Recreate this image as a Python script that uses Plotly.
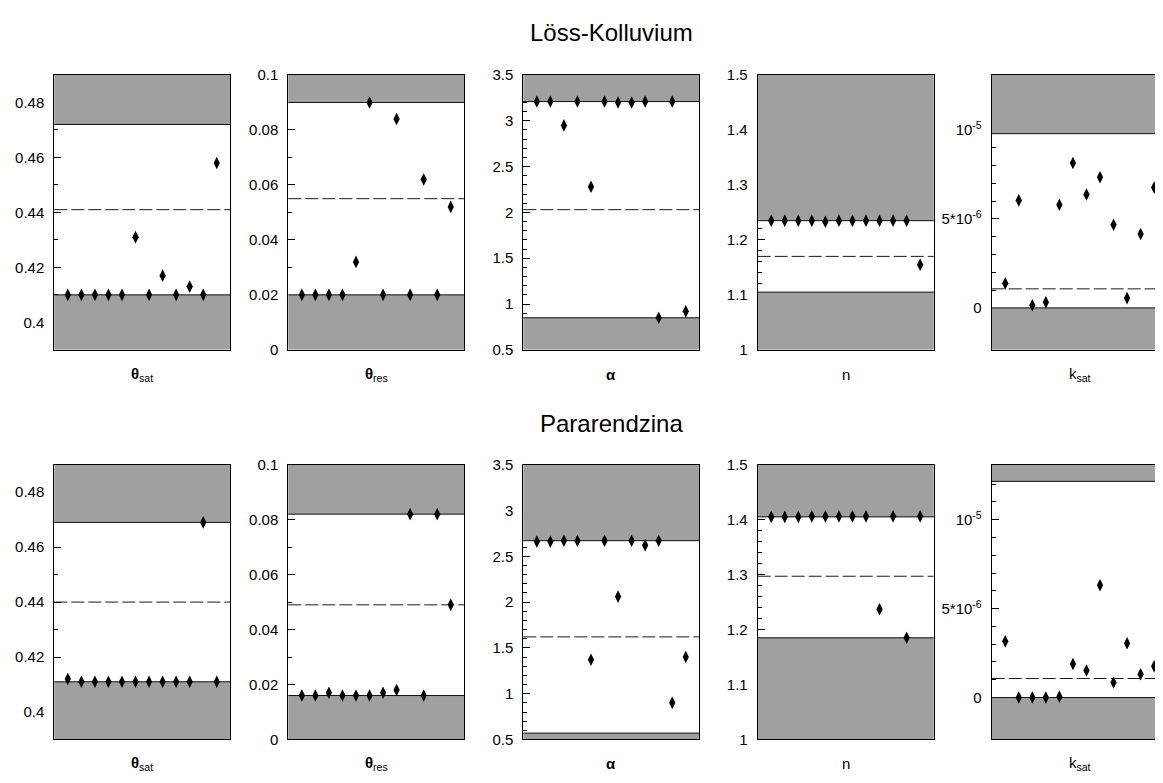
import numpy as np
import plotly.graph_objects as go

# ---------------- data ----------------
soil_names = ["Löss-Kolluvium", "Pararendzina"]
param_labels = ["<b>θ</b><sub>sat</sub>", "<b>θ</b><sub>res</sub>", "<b>α</b>", "n", "k<sub>sat</sub>"]
sample_pos = [1, 2, 3, 4, 5, 6, 7, 8, 9, 10, 11, 12]

# Löss-Kolluvium
lk_theta_sat = [0.41, 0.41, 0.41, 0.41, 0.41, 0.431, 0.41, 0.417, 0.41, 0.413, 0.41, 0.458]
lk_theta_res = [0.02, 0.02, 0.02, 0.02, 0.032, 0.09, 0.02, 0.084, 0.02, 0.062, 0.02, 0.052]
lk_alpha = [3.21, 3.21, 2.95, 3.21, 2.28, 3.21, 3.20, 3.20, 3.21, 0.85, 3.21, 0.92]
lk_n = [1.235, 1.235, 1.235, 1.235, 1.233, 1.235, 1.235, 1.235, 1.235, 1.235, 1.235, 1.155]
lk_ksat = [1.38e-6, 6.05e-6, 0.15e-6, 0.32e-6, 5.8e-6, 8.15e-6, 6.38e-6, 7.35e-6, 4.68e-6, 0.55e-6, 4.16e-6, 6.77e-6]
lk_lower = [0.41, 0.02, 0.85, 1.105, 0.0]
lk_upper = [0.472, 0.09, 3.21, 1.235, 9.8e-6]
lk_mean = [0.441, 0.055, 2.03, 1.17, 1.07e-6]

# Pararendzina
pr_theta_sat = [0.412, 0.411, 0.411, 0.411, 0.411, 0.411, 0.411, 0.411, 0.411, 0.411, 0.469, 0.411]
pr_theta_res = [0.016, 0.016, 0.017, 0.016, 0.016, 0.016, 0.017, 0.018, 0.082, 0.016, 0.082, 0.049]
pr_alpha = [2.66, 2.66, 2.67, 2.67, 1.37, 2.67, 2.06, 2.67, 2.62, 2.67, 0.90, 1.40]
pr_n = [1.405, 1.405, 1.405, 1.406, 1.406, 1.406, 1.406, 1.406, 1.237, 1.406, 1.185, 1.406]
pr_ksat = [3.16e-6, 0.0, 0.0, 0.0, 0.05e-6, 1.89e-6, 1.52e-6, 6.32e-6, 0.85e-6, 3.05e-6, 1.31e-6, 1.76e-6]
pr_lower = [0.411, 0.016, 0.57, 1.185, 0.0]
pr_upper = [0.469, 0.082, 2.67, 1.405, 1.216e-5]
pr_mean = [0.440, 0.049, 1.62, 1.297, 1.07e-6]

y_ranges = [[0.39, 0.49], [0.0, 0.1], [0.5, 3.5], [1.0, 1.5], [-2.36e-6, 1.31e-5]]
major_ticks = [
    [0.40, 0.42, 0.44, 0.46, 0.48],
    [0.0, 0.02, 0.04, 0.06, 0.08, 0.1],
    [0.5, 1.0, 1.5, 2.0, 2.5, 3.0, 3.5],
    [1.0, 1.1, 1.2, 1.3, 1.4, 1.5],
    [0.0, 5e-6, 1e-5],
]
major_text = [
    ["0.4", "0.42", "0.44", "0.46", "0.48"],
    ["0", "0.02", "0.04", "0.06", "0.08", "0.1"],
    ["0.5", "1", "1.5", "2", "2.5", "3", "3.5"],
    ["1", "1.1", "1.2", "1.3", "1.4", "1.5"],
    ["0", "5*10<sup>-6</sup>", "10<sup>-5</sup>"],
]
minor_step = [0.01, 0.01, 0.1, 0.02, 1e-6]

rows = [
    dict(values=[lk_theta_sat, lk_theta_res, lk_alpha, lk_n, lk_ksat], lower=lk_lower, upper=lk_upper, mean=lk_mean),
    dict(values=[pr_theta_sat, pr_theta_res, pr_alpha, pr_n, pr_ksat], lower=pr_lower, upper=pr_upper, mean=pr_mean),
]

# ---------------- layout geometry (page pixels) ----------------
PAGE_W, PAGE_H = 1163, 783
OFF = 8  # default body margin of the html page
W, H = PAGE_W - OFF, PAGE_H - OFF
panel_left = [54.3, 288.3, 523.3, 757.7, 991.7]
panel_w = 176.0
row_top = [67.3, 465.7]
row_bot = [348.3, 746.7]
title_y = [24, 424]
label_y = [374, 771]

GRAY = "#a0a0a0"
FONT = "Liberation Sans, Arial, sans-serif"
TXT = "#000000"


def px_x(v):
    return (v - OFF) / W


def px_y(v):
    return 1 - (v - OFF) / H


fig = go.Figure()
layout = dict(
    width=W, height=H,
    margin=dict(l=0, r=0, t=0, b=0),
    paper_bgcolor="white", plot_bgcolor="white",
    showlegend=False,
    font=dict(family=FONT, color=TXT, size=15),
)
shapes = []
annotations = []

for r, row in enumerate(rows):
    for p in range(5):
        k = r * 5 + p + 1
        ov = 10 + k
        xs = "" if k == 1 else str(k)
        xname, yname = "x" + xs, "y" + xs
        x0px = panel_left[p]
        x1px = min(x0px + panel_w, PAGE_W)
        xmax = 13.0 * (x1px - x0px) / panel_w
        xd = [px_x(x0px), min(px_x(x1px), 1.0)]
        yd = [px_y(row_bot[r]), px_y(row_top[r])]
        lo, hi = y_ranges[p]
        low_b, up_b = row["lower"][p], row["upper"][p]
        step = minor_step[p]

        # ticks only where the band is white
        inside_major = [v for v in major_ticks[p] if low_b < v < up_b]
        all_minor = np.round(np.arange(lo, hi + step / 2, step) / step) * step
        inside_minor = [float(v) for v in all_minor
                        if low_b < v < up_b and not any(abs(v - m) < step / 10 for m in major_ticks[p])]

        layout["xaxis" + xs] = dict(
            domain=xd, range=[0, xmax], anchor=yname,
            showline=True, linecolor="black", linewidth=1, mirror=True,
            ticks="", showticklabels=False, showgrid=False, zeroline=False, fixedrange=True,
        )
        layout["yaxis" + xs] = dict(
            domain=yd, range=[lo, hi], anchor=xname,
            showline=True, linecolor="black", linewidth=1, mirror=(p != 4),
            showgrid=False, zeroline=False,
            tickmode="array", tickvals=inside_major, ticks="inside", ticklen=7,
            tickcolor="black", tickwidth=1, showticklabels=False,
            minor=dict(tickmode="array", tickvals=inside_minor, ticks="inside",
                       ticklen=4, tickcolor="black", tickwidth=1, showgrid=False),
        )
        layout["yaxis" + str(ov)] = dict(
            range=[lo, hi], overlaying=yname, anchor=xname, side="left",
            showline=False, showgrid=False, zeroline=False, ticks="",
            tickmode="array", tickvals=major_ticks[p], ticktext=major_text[p],
            ticklabelstandoff=9, tickfont=dict(size=15, color=TXT, family=FONT),
        )

        # gray bands
        shapes.append(dict(type="rect", xref=xname + " domain", yref=yname, x0=0, x1=1,
                           y0=lo, y1=low_b, fillcolor=GRAY, line=dict(width=0), layer="below"))
        shapes.append(dict(type="rect", xref=xname + " domain", yref=yname, x0=0, x1=1,
                           y0=up_b, y1=hi, fillcolor=GRAY, line=dict(width=0), layer="below"))
        for yb in (low_b, up_b):
            shapes.append(dict(type="line", xref=xname + " domain", yref=yname, x0=0, x1=1,
                               y0=yb, y1=yb, line=dict(color="#111111", width=1), layer="below"))
        shapes.append(dict(type="line", xref=xname + " domain", yref=yname, x0=0, x1=1,
                           y0=row["mean"][p], y1=row["mean"][p],
                           line=dict(color="#1a1a1a", width=1, dash="13px,4px"), layer="below"))

        fig.add_trace(go.Scatter(
            x=sample_pos, y=row["values"][p], xaxis=xname, yaxis=yname, mode="markers",
            marker=dict(symbol="diamond-tall", size=9, color="black"),
            hoverinfo="y",
        ))
        fig.add_trace(go.Scatter(x=[], y=[], xaxis=xname, yaxis="y" + str(ov), mode="markers",
                                 hoverinfo="skip"))

        annotations.append(dict(
            text=param_labels[p], xref="paper", yref="paper",
            x=px_x(x0px + panel_w / 2), y=px_y(label_y[r]),
            xanchor="center", yanchor="middle", showarrow=False,
            font=dict(size=15, color=TXT, family=FONT),
        ))

    annotations.append(dict(
        text=soil_names[r], xref="paper", yref="paper",
        x=px_x(panel_left[2] + panel_w / 2), y=px_y(title_y[r]),
        xanchor="center", yanchor="middle", showarrow=False,
        font=dict(size=24, color=TXT, family=FONT),
    ))

layout["shapes"] = shapes
layout["annotations"] = annotations
fig.update_layout(**layout)
fig.write_html("out.html")
